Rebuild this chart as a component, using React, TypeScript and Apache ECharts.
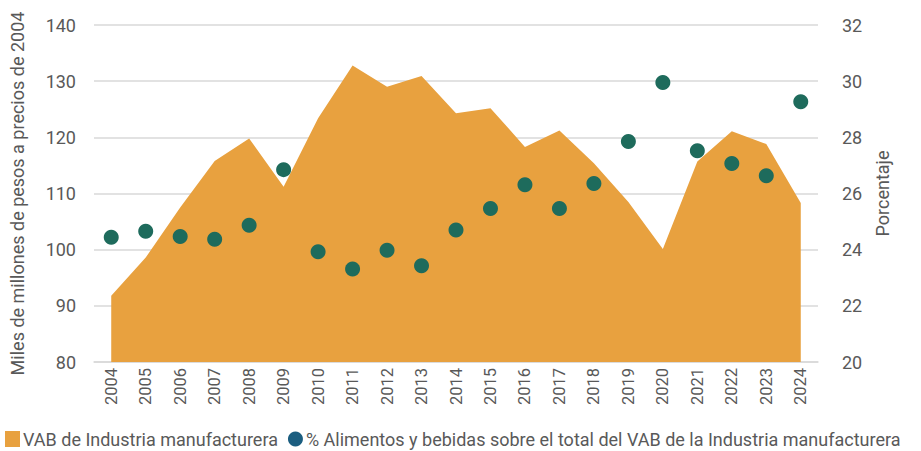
import React, { useEffect, useRef } from "react";
import * as echarts from "echarts";

const years = ["2004","2005","2006","2007","2008","2009","2010","2011","2012","2013","2014","2015","2016","2017","2018","2019","2020","2021","2022","2023","2024"];
const vab = [91.8, 98.6, 107.5, 115.8, 119.8, 111.2, 123.4, 132.8, 129.0, 130.9, 124.3, 125.2, 118.3, 121.2, 115.4, 108.5, 100.1, 115.7, 121.1, 118.8, 108.3];
const pctAlimentos = [24.44, 24.66, 24.47, 24.37, 24.87, 26.85, 23.93, 23.31, 23.98, 23.43, 24.70, 25.47, 26.31, 25.47, 26.36, 27.85, 29.95, 27.52, 27.07, 26.63, 29.27];
const leftTicks = { min: 80, max: 140, interval: 10 };
const rightTicks = { min: 20, max: 32, interval: 2 };
const seriesNames = ["VAB de Industria manufacturera", "% Alimentos y bebidas sobre el total del VAB de la Industria manufacturera"];

const FONT = "Roboto, sans-serif";
const ORANGE = "#E8A13F";
const TEAL = "#1E6B5C";
const LEGEND_BLUE = "#1B5E80";
const TXT = "#595959";
const GRID = "#D9D9D9";

export default function App() {
  const ref = useRef<HTMLDivElement>(null);
  useEffect(() => {
    document.body.style.margin = "0";
    if (!ref.current) return;
    const chart = echarts.init(ref.current, null, { renderer: "svg" });
    chart.setOption({
      animation: false,
      textStyle: { fontFamily: FONT },
      grid: { left: 94, right: 103, top: 25, bottom: 89, containLabel: false },
      legend: {
        left: 5,
        top: 430,
        padding: 0,
        itemGap: 10,
        itemWidth: 15,
        itemHeight: 16,
        textStyle: { fontFamily: FONT, fontSize: 18, color: TXT, padding: [0, 0, 0, -2] },
        data: [
          { name: seriesNames[0], icon: "rect", itemStyle: { color: ORANGE } },
          { name: seriesNames[1], icon: "circle", itemStyle: { color: LEGEND_BLUE } },
        ],
      },
      xAxis: {
        type: "category",
        data: years,
        boundaryGap: true,
        axisLine: { show: true, lineStyle: { color: GRID, width: 1.5 } },
        axisTick: { show: false },
        axisLabel: { rotate: 90, color: TXT, fontSize: 16.5, fontFamily: FONT, margin: 6 },
      },
      yAxis: [
        {
          type: "value",
          min: leftTicks.min,
          max: leftTicks.max,
          interval: leftTicks.interval,
          name: "Miles de millones de pesos a precios de 2004",
          nameLocation: "middle",
          nameGap: 68,
          nameRotate: 90,
          nameTextStyle: { color: TXT, fontSize: 18, fontFamily: FONT },
          axisLine: { show: false },
          axisTick: { show: false },
          axisLabel: { color: TXT, fontSize: 18, fontFamily: FONT, margin: 18 },
          splitLine: { show: true, lineStyle: { color: GRID, width: 1.5 } },
        },
        {
          type: "value",
          min: rightTicks.min,
          max: rightTicks.max,
          interval: rightTicks.interval,
          position: "right",
          name: "Porcentaje",
          nameLocation: "middle",
          nameGap: 54,
          nameRotate: 90,
          nameTextStyle: { color: TXT, fontSize: 18, fontFamily: FONT },
          axisLine: { show: false },
          axisTick: { show: false },
          axisLabel: { color: TXT, fontSize: 18, fontFamily: FONT, margin: 24 },
          splitLine: { show: false },
        },
      ],
      series: [
        {
          name: seriesNames[0],
          type: "line",
          yAxisIndex: 0,
          data: vab,
          symbol: "none",
          lineStyle: { width: 0, color: ORANGE },
          itemStyle: { color: ORANGE },
          areaStyle: { color: ORANGE, opacity: 1 },
          z: 1,
        },
        {
          name: seriesNames[1],
          type: "scatter",
          yAxisIndex: 1,
          data: pctAlimentos,
          symbol: "circle",
          symbolSize: 15,
          itemStyle: { color: TEAL, opacity: 1 },
          z: 3,
        },
      ],
    });
    return () => chart.dispose();
  }, []);
  return <div ref={ref} style={{ width: 921, height: 451 }} />;
}
